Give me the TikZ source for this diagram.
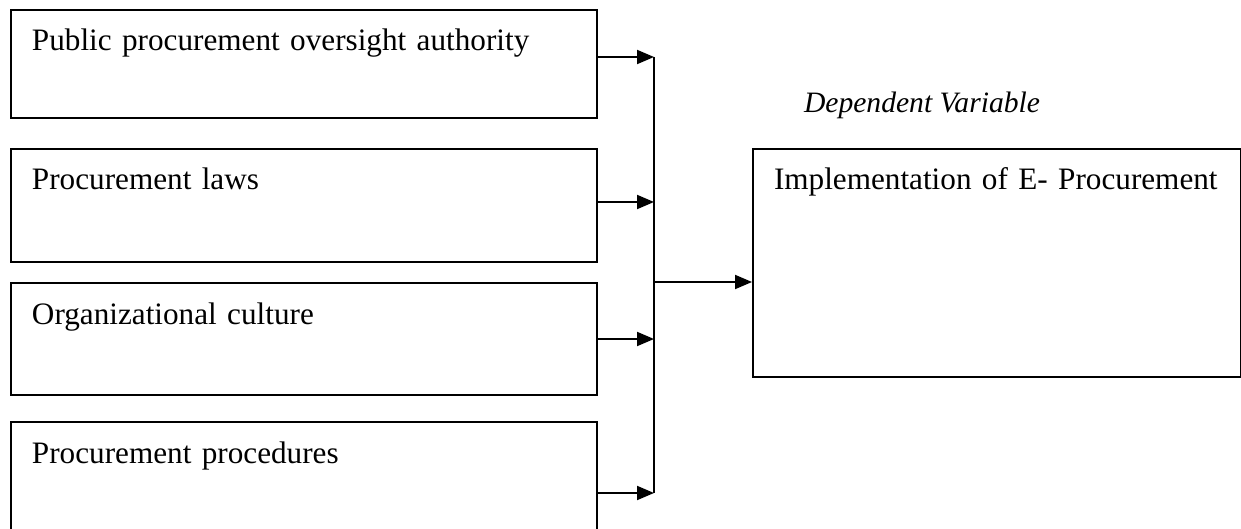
\documentclass[tikz,border=0pt]{standalone}
\usepackage{fontspec}
\setmainfont{Liberation Serif}
\usetikzlibrary{arrows.meta}
\tikzset{box/.style={draw,anchor=north west,inner sep=0pt,inner xsep=10.5pt,
  text width=272pt,align=left,text height=20.5pt,text depth=#1,
  font=\fontsize{15.6}{18}\selectfont}}
\begin{document}
\begin{tikzpicture}[>={Triangle[length=8.5pt,width=7pt]},line width=1pt,x=0.5pt,y=-0.5pt]
\useasboundingbox (0,0) rectangle (1241,529);
\foreach \t/\y/\d/\a [count=\i] in {Public procurement oversight authority/9/33.5pt/57,
  Procurement laws/148/36pt/202,Organizational culture/282/35.5pt/339,
  Procurement procedures/421/39.5pt/493}{
\node[box=\d] (b\i) at (10,\y) {\t};
\coordinate (j\i) at (654,\a);
\draw[->] (b\i.east|-j\i) -- (j\i);
}
\draw (j1) -- (j4);
\node[box=93.5pt,text width=223pt] (imp) at (752,148) {Implementation of E- Procurement};
\node[anchor=base west,inner sep=0pt,font=\fontsize{14.8}{18}\selectfont\itshape] (dv) at (803,113) {Dependent Variable};
\coordinate (jm) at (654,282);
\draw[->] (jm) -- (imp.west|-jm);
\end{tikzpicture}
\end{document}
